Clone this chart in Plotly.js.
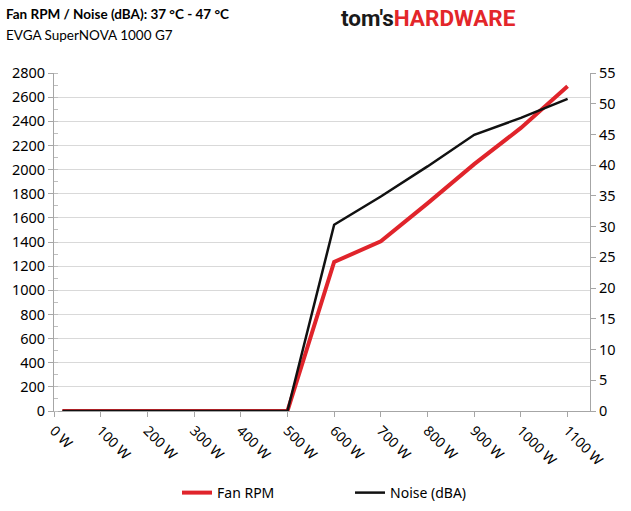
<!DOCTYPE html>
<html>
<head>
<meta charset="utf-8">
<script src="https://cdn.plot.ly/plotly-3.0.1.min.js"></script>
<style>html,body{margin:0;padding:0;background:#fff;}#chart{width:631px;height:511px;}</style>
</head>
<body>
<div id="chart"></div>
<script>
var loadW = [18, 100, 200, 300, 400, 500, 600, 700, 800, 900, 1000, 1100];
var fanRPM = [0, 0, 0, 0, 0, 0, 1235, 1405, 1720, 2045, 2345, 2690];
var noiseDBA = [0, 0, 0, 0, 0, 0, 30.3, 34.9, 39.8, 44.95, 47.7, 50.8];
var xTickVals = [0, 100, 200, 300, 400, 500, 600, 700, 800, 900, 1000, 1100];
var xTickText = ["0 W", "100 W", "200 W", "300 W", "400 W", "500 W", "600 W", "700 W", "800 W", "900 W", "1000 W", "1100 W"];

var FONT = "Noto Sans, Open Sans, sans-serif";
var TFONT = "Lato, Noto Sans, sans-serif";
var traces = [
  {x: loadW, y: fanRPM, name: "Fan RPM", type: "scatter", mode: "lines",
   line: {color: "#e0242b", width: 4}, yaxis: "y"},
  {x: loadW, y: noiseDBA, name: "Noise (dBA)", type: "scatter", mode: "lines",
   line: {color: "#111111", width: 2.5}, yaxis: "y2"}
];
var layout = {
  width: 631, height: 511,
  margin: {l: 54, r: 41, t: 73, b: 100, autoexpand: false},
  paper_bgcolor: "#fff", plot_bgcolor: "#fff",
  font: {family: FONT, size: 14, color: "#000"},
  showlegend: true,
  legend: {orientation: "h", xref: "container", yref: "container", x: 0.5547, xanchor: "center",
           y: 0.0352, yanchor: "middle",
           itemwidth: 30, entrywidth: 128, font: {size: 14, color: "#000"}},
  xaxis: {range: [0, 1148], tickvals: xTickVals, ticktext: xTickText, tickangle: 45, automargin: false,
          showgrid: false, zeroline: false, showline: true, linecolor: "#a6a6a6", linewidth: 1,
          ticks: "outside", ticklen: 5, tickcolor: "#a6a6a6", tickfont: {size: 14}},
  yaxis: {range: [0, 2800], dtick: 200, showgrid: true, gridcolor: "#d9d9d9", gridwidth: 1, automargin: false,
          zeroline: false, showline: true, linecolor: "#a6a6a6", linewidth: 1,
          ticks: "outside", ticklen: 5, tickcolor: "#a6a6a6", tickfont: {size: 14.5},
          minor: {dtick: 100, ticks: "inside", ticklen: 4, tickcolor: "#bfbfbf", showgrid: false}},
  yaxis2: {range: [0, 55], dtick: 5, overlaying: "y", side: "right", showgrid: false, automargin: false,
           zeroline: false, showline: true, linecolor: "#a6a6a6", linewidth: 1,
           ticks: "outside", ticklen: 5, tickcolor: "#a6a6a6", tickfont: {size: 14.5}},
  annotations: [
    {text: "<b>Fan RPM / Noise (dBA): 37 °C - 47 °C</b>", xref: "paper", yref: "paper",
     x: -0.093, y: 1.175, xanchor: "left", yanchor: "middle", showarrow: false,
     font: {family: TFONT, size: 13.5, color: "#000"}},
    {text: "EVGA SuperNOVA 1000 G7", xref: "paper", yref: "paper",
     x: -0.093, y: 1.113, xanchor: "left", yanchor: "middle", showarrow: false,
     font: {family: TFONT, size: 13.5, color: "#000"}},
    {text: "<b>tom's<span style='color:#e3262a'>HARDWARE</span></b>", xref: "paper", yref: "paper",
     x: 0.532, y: 1.163, xanchor: "left", yanchor: "middle", showarrow: false,
     font: {family: "Roboto, sans-serif", size: 22.5, color: "#1a1a1a"}}
  ]
};
Plotly.newPlot("chart", traces, layout, {displayModeBar: false, staticPlot: true});
</script>
</body>
</html>
